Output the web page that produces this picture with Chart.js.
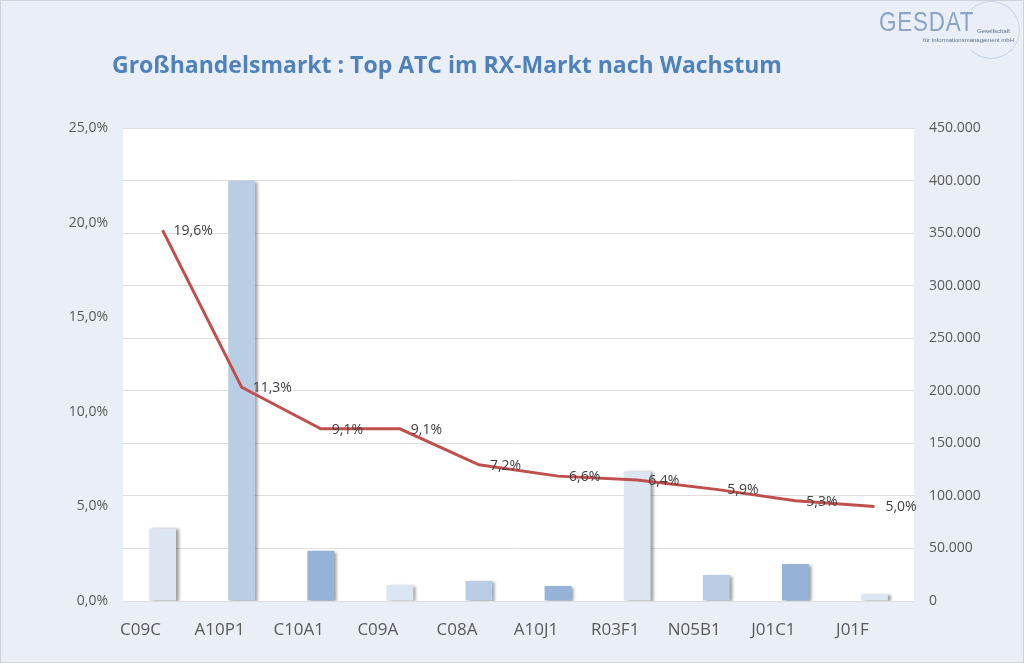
<!DOCTYPE html>
<html>
<head>
<meta charset="utf-8">
<script src="https://cdn.jsdelivr.net/npm/chart.js@4.4.1/dist/chart.umd.min.js"></script>
<style>
  html, body { margin: 0; padding: 0; width: 1024px; height: 663px; overflow: hidden; background: #eaeff7; }
  #wrap { position: absolute; left: 0; top: 0; width: 1024px; height: 663px; box-sizing: border-box; border: 1px solid #cfd3d9; background: #eaeff7; }
  #c { position: absolute; left: 0; top: 0; }
  #title { position: absolute; left: 111px; top: 47px; font-family: "Open Sans", sans-serif; font-weight: bold; font-size: 23px; color: #4f81bd; white-space: nowrap; }
  #logo-circle { position: absolute; left: 961px; top: 0px; width: 56px; height: 56px; border-radius: 50%; border: 1px solid #c9d6e8; border-left-color: transparent; }
  #logo-main { position: absolute; left: 878px; top: 5px; font-family: "Liberation Sans", sans-serif; font-size: 28px; color: #8aa4c6; letter-spacing: 1px; transform: scaleX(0.8); transform-origin: left top; }
  #logo-s1 { position: absolute; left: 976px; top: 27px; font-family: "Liberation Sans", sans-serif; font-size: 6px; color: #5d6f89; }
  #logo-s2 { position: absolute; left: 922px; top: 36px; font-family: "Liberation Sans", sans-serif; font-size: 6px; color: #5d6f89; }
</style>
</head>
<body>
<div id="wrap">
  <canvas id="c" width="1024" height="663"></canvas>
  <div id="title">Großhandelsmarkt : Top ATC im RX-Markt nach Wachstum</div>
  <div id="logo-circle"></div>
  <div id="logo-main">GESDAT</div>
  <div id="logo-s1">Gesellschaft</div>
  <div id="logo-s2">für Informationsmanagement mbH</div>
</div>
<script>
const categories = ["C09C", "A10P1", "C10A1", "C09A", "C08A", "A10J1", "R03F1", "N05B1", "J01C1", "J01F"];
const umsatz = [69000, 400000, 47700, 15300, 19000, 14300, 123300, 24800, 35300, 6400];
const wachstum = [19.6, 11.3, 9.1, 9.1, 7.2, 6.6, 6.4, 5.9, 5.3, 5.0];
const barColors = ["#dce6f2", "#b9cde5", "#95b3d7", "#dce6f2", "#b9cde5", "#95b3d7", "#dce6f2", "#b9cde5", "#95b3d7", "#dce6f2"];
const leftTicksMax = 25;
const rightTicksMax = 450000;

const fmtPct = v => v.toFixed(1).replace('.', ',') + '%';
const fmtNum = v => Math.round(v).toString().replace(/\B(?=(\d{3})+(?!\d))/g, '.');

const plotBg = {
  id: 'plotBg',
  beforeDraw(chart) {
    const { ctx, chartArea: a } = chart;
    ctx.save();
    ctx.fillStyle = '#ffffff';
    ctx.fillRect(a.left, a.top, a.right - a.left, a.bottom - a.top);
    ctx.restore();
  }
};

const barShadow = {
  id: 'barShadow',
  beforeDatasetDraw(chart, args) {
    if (chart.data.datasets[args.index].type !== 'bar') return;
    const ctx = chart.ctx;
    ctx.save();
    ctx.shadowColor = 'rgba(0,0,0,0.38)';
    ctx.shadowOffsetX = 3;
    ctx.shadowOffsetY = 1;
    ctx.shadowBlur = 3;
  },
  afterDatasetDraw(chart, args) {
    if (chart.data.datasets[args.index].type !== 'bar') return;
    chart.ctx.restore();
  }
};

const lineLabels = {
  id: 'lineLabels',
  afterDatasetsDraw(chart) {
    const ctx = chart.ctx;
    chart.data.datasets.forEach((ds, i) => {
      if (ds.type !== 'line') return;
      const meta = chart.getDatasetMeta(i);
      ctx.save();
      ctx.font = '14px "Open Sans", sans-serif';
      ctx.fillStyle = '#404040';
      ctx.textAlign = 'left';
      ctx.textBaseline = 'middle';
      meta.data.forEach((pt, j) => {
        ctx.fillText(fmtPct(ds.data[j]), pt.x + 11, pt.y + 1);
      });
      ctx.restore();
    });
  }
};

new Chart(document.getElementById('c'), {
  data: {
    labels: categories,
    datasets: [
      {
        type: 'line',
        label: 'Wachstum',
        data: wachstum,
        yAxisID: 'y',
        borderColor: '#c0504d',
        borderWidth: 3,
        pointRadius: 0,
        tension: 0,
        order: 0
      },
      {
        type: 'bar',
        label: 'Umsatz',
        data: umsatz,
        yAxisID: 'y1',
        backgroundColor: barColors,
        barPercentage: 0.34,
        categoryPercentage: 1,
        order: 1
      }
    ]
  },
  options: {
    responsive: false,
    animation: false,
    layout: { padding: { top: 127, left: 0, right: 0, bottom: 0 } },
    plugins: { legend: { display: false }, tooltip: { enabled: false }, title: { display: false } },
    scales: {
      x: {
        grid: { display: false, drawTicks: false },
        border: { display: false },
        ticks: { color: '#595959', font: { family: 'Open Sans', size: 17 }, padding: 19, labelOffset: -22, maxRotation: 0, autoSkip: false },
        afterFit(s) { s.height = 63; }
      },
      y: {
        position: 'left',
        min: 0, max: leftTicksMax,
        grid: { display: false, drawTicks: false },
        border: { display: false },
        ticks: { stepSize: 5, color: '#595959', font: { family: 'Open Sans', size: 14 }, padding: 15, callback: v => fmtPct(v) },
        afterFit(s) { s.width = 122; }
      },
      y1: {
        position: 'right',
        min: 0, max: rightTicksMax,
        grid: { color: '#dedede', lineWidth: 1, drawTicks: false },
        border: { display: false },
        ticks: { stepSize: 50000, color: '#595959', font: { family: 'Open Sans', size: 14 }, padding: 15, callback: v => fmtNum(v) },
        afterFit(s) { s.width = 111; }
      }
    }
  },
  plugins: [plotBg, barShadow, lineLabels]
});
</script>
</body>
</html>
